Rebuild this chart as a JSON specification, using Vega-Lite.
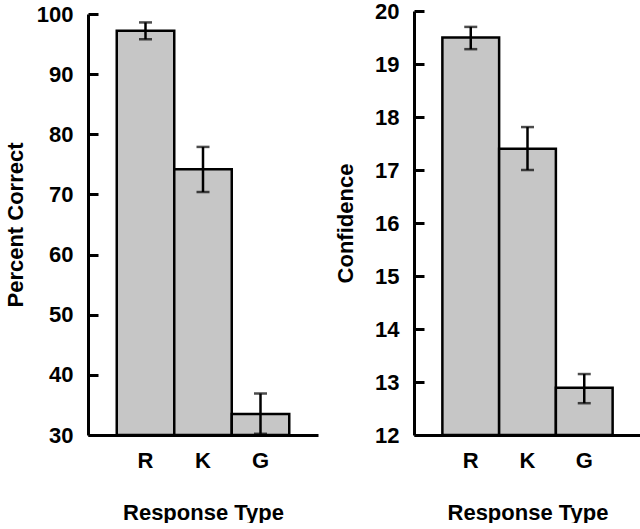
{
  "$schema": "https://vega.github.io/schema/vega-lite/v6.json",
  "background": "white",
  "padding": {"left": 4, "top": 0, "right": 0, "bottom": 0},
  "bounds": "flush",
  "spacing": 96,
  "config": {
    "font": "Liberation Sans",
    "view": {"stroke": null},
    "axis": {
      "labelFont": "Liberation Sans",
      "labelFontWeight": "bold",
      "labelFontSize": 22,
      "labelColor": "black",
      "titleFont": "Liberation Sans",
      "titleFontWeight": "bold",
      "titleFontSize": 22,
      "titleColor": "black",
      "domainColor": "black",
      "domainWidth": 3,
      "tickColor": "black",
      "tickWidth": 3,
      "grid": false
    }
  },
  "datasets": {
    "pc": [
      {"type": "R", "value": 97.2, "lo": 95.8, "hi": 98.6},
      {"type": "K", "value": 74.2, "lo": 70.4, "hi": 77.9},
      {"type": "G", "value": 33.5, "lo": 30.2, "hi": 36.9}
    ],
    "conf": [
      {"type": "R", "value": 19.5, "lo": 19.28, "hi": 19.7},
      {"type": "K", "value": 17.4, "lo": 17.0, "hi": 17.81},
      {"type": "G", "value": 12.89, "lo": 12.6, "hi": 13.15}
    ]
  },
  "hconcat": [
    {
      "width": 230,
      "height": 424,
      "data": {"name": "pc"},
      "encoding": {
        "x": {
          "field": "type", "type": "nominal", "sort": ["R", "K", "G"],
          "scale": {"paddingInner": 0, "paddingOuter": 0.5},
          "axis": {"title": "Response Type", "labelAngle": 0, "ticks": false, "labelPadding": 15, "titlePadding": 31}
        }
      },
      "layer": [
        {
          "mark": {"type": "bar", "fill": "#c6c6c6", "stroke": "black", "strokeWidth": 2.5},
          "encoding": {
            "y": {
              "field": "value", "type": "quantitative",
              "scale": {"domain": [30, 100], "nice": false, "zero": false, "range": [424, 3]},
              "axis": {"title": "Percent Correct", "values": [30, 40, 50, 60, 70, 80, 90, 100], "ticks": false, "labelPadding": 15, "titlePadding": 9}
            },
            "y2": {"datum": 30}
          }
        },
        {
          "mark": {"type": "rule", "color": "black", "strokeWidth": 2.5},
          "encoding": {
            "y": {
              "field": "lo", "type": "quantitative",
              "axis": {"orient": "right", "offset": -230, "title": null, "labels": false, "domain": false, "ticks": true, "tickSize": 10, "values": [30, 40, 50, 60, 70, 80, 90, 100]}
            },
            "y2": {"field": "hi"}
          }
        },
        {
          "mark": {"type": "tick", "color": "black", "size": 13, "thickness": 2.5},
          "encoding": {"y": {"field": "lo", "type": "quantitative", "axis": null}}
        },
        {
          "mark": {"type": "tick", "color": "black", "size": 13, "thickness": 2.5},
          "encoding": {"y": {"field": "hi", "type": "quantitative", "axis": null}}
        }
      ],
      "resolve": {"axis": {"y": "independent"}}
    },
    {
      "width": 227,
      "height": 424,
      "data": {"name": "conf"},
      "encoding": {
        "x": {
          "field": "type", "type": "nominal", "sort": ["R", "K", "G"],
          "scale": {"paddingInner": 0, "paddingOuter": 0.5},
          "axis": {"title": "Response Type", "labelAngle": 0, "ticks": false, "labelPadding": 15, "titlePadding": 31}
        }
      },
      "layer": [
        {
          "mark": {"type": "bar", "fill": "#c6c6c6", "stroke": "black", "strokeWidth": 2.5},
          "encoding": {
            "y": {
              "field": "value", "type": "quantitative",
              "scale": {"domain": [12, 20], "nice": false, "zero": false},
              "axis": {"title": "Confidence", "values": [12, 13, 14, 15, 16, 17, 18, 19, 20], "ticks": false, "labelPadding": 15, "titlePadding": 17}
            },
            "y2": {"datum": 12}
          }
        },
        {
          "mark": {"type": "rule", "color": "black", "strokeWidth": 2.5},
          "encoding": {
            "y": {
              "field": "lo", "type": "quantitative",
              "axis": {"orient": "right", "offset": -227, "title": null, "labels": false, "domain": false, "ticks": true, "tickSize": 10, "values": [12, 13, 14, 15, 16, 17, 18, 19, 20]}
            },
            "y2": {"field": "hi"}
          }
        },
        {
          "mark": {"type": "tick", "color": "black", "size": 13, "thickness": 2.5},
          "encoding": {"y": {"field": "lo", "type": "quantitative", "axis": null}}
        },
        {
          "mark": {"type": "tick", "color": "black", "size": 13, "thickness": 2.5},
          "encoding": {"y": {"field": "hi", "type": "quantitative", "axis": null}}
        }
      ],
      "resolve": {"axis": {"y": "independent"}}
    }
  ]
}
